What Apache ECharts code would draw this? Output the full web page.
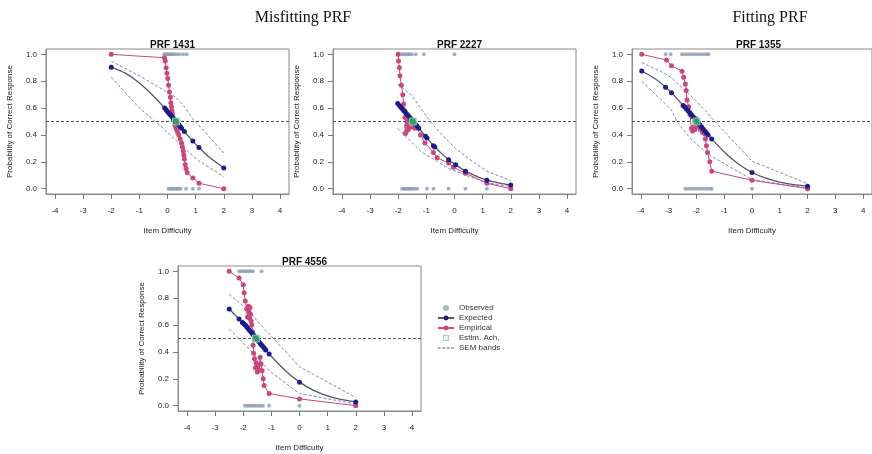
<!DOCTYPE html>
<html>
<head>
<meta charset="utf-8">
<script src="https://cdn.jsdelivr.net/npm/echarts@6/dist/echarts.min.js"></script>
<style>html,body{margin:0;padding:0;background:#fff}#c{width:872px;height:454px}</style>
</head>
<body>
<div id="c"></div>
<script>
// ---- tick labels ----
const xTicks = [-4, -3, -2, -1, 0, 1, 2, 3, 4];
const yTicks = [0, 0.2, 0.4, 0.6, 0.8, 1.0];
const panelTitles = ['PRF 1431', 'PRF 2227', 'PRF 1355', 'PRF 4556'];

// ---- PRF 1431 ----
const obsTop1 = [-0.12, -0.06, 0, 0.06, 0.12, 0.18, 0.24, 0.32, 0.42, 0.55, 0.68];
const obsBot1 = [0.04, 0.1, 0.16, 0.22, 0.28, 0.34, 0.4, 0.46, 0.66, 0.9, 1.12];
const expected1 = [[-2,0.905],[-0.1,0.6],[-0.05,0.587],[0,0.575],[0.05,0.562],[0.1,0.55],[0.15,0.537],[0.2,0.525],[0.25,0.512],[0.3,0.5],[0.35,0.488],[0.4,0.475],[0.45,0.463],[0.5,0.45],[0.6,0.425],[0.9,0.354],[1.12,0.306],[2,0.154]];
const curve1 = [[-1.5,0.86],[-1,0.787],[-0.5,0.69],[1.5,0.231]];
const empirical1 = [[-2,1.0],[-0.11,0.975],[-0.08,0.95],[-0.05,0.9],[-0.02,0.86],[0.01,0.82],[0.04,0.77],[0.07,0.72],[0.1,0.68],[0.12,0.64],[0.14,0.61],[0.16,0.58],[0.18,0.555],[0.2,0.53],[0.22,0.51],[0.25,0.48],[0.28,0.46],[0.32,0.44],[0.36,0.42],[0.4,0.4],[0.45,0.37],[0.5,0.34],[0.53,0.31],[0.56,0.28],[0.58,0.25],[0.6,0.22],[0.63,0.18],[0.66,0.15],[0.7,0.12],[0.9,0.08],[1.12,0.04],[2,0.0]];
const semUp1 = [[-2,0.95],[-1,0.84],[-0.1,0.73],[0.3,0.68],[0.6,0.61],[0.9,0.52],[1.12,0.47],[2,0.265]];
const semLo1 = [[-2,0.83],[-1,0.6],[-0.1,0.44],[0.3,0.36],[0.6,0.3],[0.9,0.245],[1.12,0.205],[2,0.09]];
const est1 = [0.3, 0.5];

// ---- PRF 2227 ----
const obsTop2 = [-2.02, -1.86, -1.8, -1.74, -1.66, -1.6, -1.52, -1.38, -1.09, 0.0];
const obsBot2 = [-1.86, -1.8, -1.74, -1.68, -1.62, -1.56, -1.5, -1.42, -1.33, -0.98, -0.75, -0.21, 0.39, 1.15];
const expected2 = [[-2.02,0.634],[-1.95,0.617],[-1.9,0.605],[-1.85,0.593],[-1.8,0.58],[-1.75,0.568],[-1.7,0.556],[-1.65,0.544],[-1.6,0.532],[-1.55,0.52],[-1.5,0.508],[-1.45,0.495],[-1.4,0.483],[-1.33,0.466],[-1.27,0.45],[-1.03,0.39],[-0.98,0.378],[-0.75,0.32],[-0.7,0.31],[-0.21,0.215],[0.04,0.178],[0.39,0.13],[1.15,0.063],[2.0,0.027]];
const curve2 = [[-0.5,0.27],[0.75,0.095],[1.6,0.041]];
const empirical2 = [[-2.0,1.0],[-1.99,0.95],[-1.96,0.9],[-1.94,0.84],[-1.89,0.77],[-1.84,0.7],[-1.81,0.63],[-1.78,0.58],[-1.76,0.53],[-1.75,0.41],[-1.72,0.42],[-1.7,0.47],[-1.67,0.5],[-1.64,0.44],[-1.6,0.47],[-1.56,0.5],[-1.52,0.46],[-1.48,0.48],[-1.45,0.455],[-1.4,0.45],[-1.35,0.46],[-1.21,0.4],[-1.05,0.34],[-0.75,0.27],[-0.62,0.23],[-0.21,0.19],[-0.04,0.16],[0.39,0.115],[1.15,0.04],[2.0,0.0]];
const semUp2 = [[-2.02,0.78],[-1.5,0.69],[-1.21,0.6],[-1.03,0.55],[-0.75,0.47],[-0.21,0.35],[0.04,0.3],[0.39,0.24],[1.15,0.13],[2,0.06]];
const semLo2 = [[-2.02,0.45],[-1.5,0.34],[-1.21,0.28],[-1.03,0.255],[-0.75,0.22],[-0.21,0.15],[0.04,0.13],[0.39,0.1],[1.15,0.045],[2,0.015]];
const est2 = [-1.48, 0.5];

// ---- PRF 1355 ----
const obsTop3 = [-3.11, -2.93, -2.52, -2.42, -2.32, -2.22, -2.12, -2.02, -1.92, -1.82, -1.72, -1.62, -1.57];
const obsBot3 = [-2.4, -2.3, -2.2, -2.1, -2.0, -1.9, -1.8, -1.7, -1.6, -1.5, -1.45, 0];
const expected3 = [[-3.97,0.876],[-3.11,0.756],[-2.9,0.715],[-2.48,0.62],[-2.42,0.608],[-2.36,0.594],[-2.3,0.58],[-2.24,0.565],[-2.18,0.55],[-2.12,0.535],[-2.06,0.52],[-2.0,0.505],[-1.94,0.49],[-1.88,0.475],[-1.82,0.46],[-1.76,0.445],[-1.7,0.43],[-1.64,0.415],[-1.58,0.4],[-1.45,0.37],[0,0.12],[2,0.018]];
const curve3 = [[-3.5,0.82],[-1,0.273],[-0.5,0.185],[0.5,0.078],[1,0.049],[1.5,0.03]];
const empirical3 = [[-3.97,1.0],[-3.08,0.958],[-2.9,0.915],[-2.52,0.875],[-2.46,0.83],[-2.4,0.78],[-2.37,0.73],[-2.34,0.66],[-2.28,0.61],[-2.23,0.55],[-2.18,0.45],[-2.14,0.43],[-2.1,0.46],[-2.06,0.44],[-2.02,0.52],[-1.98,0.49],[-1.94,0.46],[-1.9,0.48],[-1.86,0.44],[-1.82,0.45],[-1.78,0.42],[-1.74,0.43],[-1.71,0.41],[-1.68,0.37],[-1.64,0.32],[-1.6,0.27],[-1.52,0.2],[-1.45,0.13],[0,0.062],[2,0.0]];
const semUp3 = [[-3.97,0.94],[-3.11,0.855],[-2.9,0.825],[-2.48,0.745],[-2.2,0.69],[-1.82,0.61],[-1.58,0.56],[-1.45,0.525],[0,0.205],[2,0.037]];
const semLo3 = [[-3.97,0.8],[-3.11,0.63],[-2.9,0.585],[-2.7,0.5],[-2.48,0.44],[-2.2,0.37],[-1.82,0.3],[-1.58,0.26],[-1.45,0.24],[0,0.067],[2,0.005]];
const est3 = [-2.0, 0.5];

// ---- PRF 4556 ----
const obsTop4 = [-2.15, -2.06, -1.98, -1.9, -1.82, -1.74, -1.66, -1.35];
const obsBot4 = [-1.94, -1.86, -1.78, -1.7, -1.62, -1.54, -1.46, -1.38, -1.3, -1.08, 0];
const expected4 = [[-2.5,0.72],[-2.15,0.645],[-2.03,0.62],[-1.98,0.61],[-1.93,0.6],[-1.88,0.587],[-1.83,0.575],[-1.78,0.562],[-1.73,0.55],[-1.68,0.537],[-1.63,0.525],[-1.58,0.512],[-1.55,0.505],[-1.5,0.49],[-1.45,0.478],[-1.4,0.465],[-1.35,0.452],[-1.3,0.44],[-1.25,0.428],[-1.2,0.415],[-1.08,0.385],[0,0.175],[2,0.027]];
const curve4 = [[-0.5,0.26],[0.5,0.114],[1,0.072],[1.5,0.044]];
const empirical4 = [[-2.5,1.0],[-2.15,0.95],[-2.0,0.9],[-1.97,0.84],[-1.93,0.78],[-1.88,0.72],[-1.85,0.66],[-1.82,0.74],[-1.8,0.7],[-1.78,0.65],[-1.76,0.73],[-1.74,0.68],[-1.72,0.63],[-1.7,0.6],[-1.67,0.55],[-1.65,0.45],[-1.63,0.39],[-1.6,0.35],[-1.57,0.28],[-1.54,0.32],[-1.5,0.25],[-1.47,0.3],[-1.44,0.27],[-1.4,0.36],[-1.37,0.31],[-1.33,0.26],[-1.29,0.2],[-1.26,0.15],[-1.08,0.09],[0,0.05],[2,0.0]];
const semUp4 = [[-2.5,0.83],[-2.15,0.77],[-1.77,0.7],[-1.5,0.63],[-1.2,0.56],[-1.08,0.535],[0,0.29],[2,0.06]];
const semLo4 = [[-2.5,0.57],[-2.15,0.5],[-1.88,0.44],[-1.55,0.37],[-1.2,0.29],[-1.08,0.26],[0,0.09],[2,0.012]];
const est4 = [-1.55, 0.5];

const panels = [
  {obsTop: obsTop1, obsBot: obsBot1, expected: expected1, curve: curve1, emp: empirical1, up: semUp1, lo: semLo1, est: est1},
  {obsTop: obsTop2, obsBot: obsBot2, expected: expected2, curve: curve2, emp: empirical2, up: semUp2, lo: semLo2, est: est2},
  {obsTop: obsTop3, obsBot: obsBot3, expected: expected3, curve: curve3, emp: empirical3, up: semUp3, lo: semLo3, est: est3},
  {obsTop: obsTop4, obsBot: obsBot4, expected: expected4, curve: curve4, emp: empirical4, up: semUp4, lo: semLo4, est: est4}
];

// layout (pixels)
const boxes = [
  {left: 46, top: 49},
  {left: 333, top: 49},
  {left: 632, top: 49},
  {left: 178, top: 266}
];
const BW = 243, BH = 145;

const C = {
  obs: '#8d9db3', exp: '#1c1c8a', curve: '#55556e', emp: '#c9487c',
  sem: '#8484bc', est: '#3db56c', box: '#8a8a8a', text: '#222'
};
const FONT = 'Liberation Sans, Arial, sans-serif';

const grids = [], xAxes = [], yAxes = [], series = [], titles = [];

titles.push({text: 'Misfitting PRF', left: 298, top: 5, textAlign: 'center',
  textStyle: {fontFamily: 'Liberation Serif, Times New Roman, serif', fontSize: 16, fontWeight: 'normal', color: '#111'}});
titles.push({text: 'Fitting PRF', left: 765, top: 5, textAlign: 'center',
  textStyle: {fontFamily: 'Liberation Serif, Times New Roman, serif', fontSize: 16, fontWeight: 'normal', color: '#111'}});

panels.forEach((p, i) => {
  const b = boxes[i];
  grids.push({left: b.left, top: b.top, width: BW, height: BH, show: true,
    borderColor: C.box, borderWidth: 1, backgroundColor: 'transparent', containLabel: false});
  titles.push({text: panelTitles[i], left: b.left + BW / 2, top: b.top - 14, textAlign: 'center',
    textStyle: {fontFamily: FONT, fontSize: 10, fontWeight: 'bold', color: '#111'}});
  xAxes.push({gridIndex: i, type: 'value', min: -4.32, max: 4.32,
    axisLine: {show: true, onZero: false, lineStyle: {color: C.box}},
    axisTick: {show: true, length: 5, customValues: xTicks, lineStyle: {color: '#777'}},
    axisLabel: {customValues: xTicks, fontSize: 8, color: C.text, margin: 13, fontFamily: FONT},
    splitLine: {show: false},
    name: 'Item Difficulty', nameLocation: 'middle', nameGap: 33,
    nameTextStyle: {fontSize: 8, color: C.text, fontFamily: FONT}});
  yAxes.push({gridIndex: i, type: 'value', min: -0.04, max: 1.04,
    axisLine: {show: true, onZero: false, lineStyle: {color: C.box}},
    axisTick: {show: true, length: 5, customValues: yTicks, lineStyle: {color: '#777'}},
    axisLabel: {customValues: yTicks, fontSize: 8, color: C.text, margin: 9, fontFamily: FONT,
      formatter: v => v.toFixed(1)},
    splitLine: {show: false},
    name: 'Probability of Correct Response', nameLocation: 'middle', nameGap: 32, nameRotate: 90,
    nameTextStyle: {fontSize: 8, color: C.text, fontFamily: FONT}});

  // observed points at 1 and 0
  const obsData = p.obsTop.map(x => [x, 1]).concat(p.obsBot.map(x => [x, 0]));
  series.push({name: 'Observed', type: 'scatter', xAxisIndex: i, yAxisIndex: i, data: obsData,
    symbol: 'circle', symbolSize: 4, itemStyle: {color: C.obs}, z: 2,
    markLine: {silent: true, symbol: 'none', label: {show: false},
      lineStyle: {type: [3, 2], color: '#555', width: 1}, data: [{yAxis: 0.5}]}});

  // SEM bands
  [p.up, p.lo].forEach(band => {
    series.push({name: 'SEM bands', type: 'line', xAxisIndex: i, yAxisIndex: i, data: band,
      symbol: 'none', lineStyle: {type: [3, 2], color: C.sem, width: 1}, itemStyle: {color: '#555577'}, z: 3});
  });

  // empirical
  series.push({name: 'Empirical', type: 'line', xAxisIndex: i, yAxisIndex: i, data: p.emp,
    symbol: 'circle', symbolSize: 5, showAllSymbol: true,
    lineStyle: {color: C.emp, width: 1}, itemStyle: {color: C.emp}, z: 4});

  // expected: model curve through expected points, markers only on expected points
  const merged = p.expected.map(d => ({value: d}))
    .concat(p.curve.map(d => ({value: d, symbol: 'none'})))
    .sort((a, b) => a.value[0] - b.value[0]);
  series.push({name: 'Expected', type: 'line', xAxisIndex: i, yAxisIndex: i, data: merged,
    symbol: 'circle', symbolSize: 5, showAllSymbol: true, smooth: 0.2,
    lineStyle: {color: C.curve, width: 1.3}, itemStyle: {color: C.exp}, z: 5});

  // estimated achievement
  series.push({name: 'Estim. Ach.', type: 'scatter', xAxisIndex: i, yAxisIndex: i, data: [p.est],
    symbol: 'rect', symbolSize: 7, itemStyle: {color: C.est, borderColor: '#9be0b6', borderWidth: 1}, z: 6});
});

const chart = echarts.init(document.getElementById('c'), null, {renderer: 'canvas'});
chart.setOption({
  animation: false,
  backgroundColor: '#fff',
  title: titles,
  grid: grids,
  xAxis: xAxes,
  yAxis: yAxes,
  legend: {
    orient: 'vertical', left: 437, top: 303, itemWidth: 16, itemHeight: 6, itemGap: 0, padding: 0,
    symbolKeepAspect: true,
    textStyle: {fontSize: 8, lineHeight: 10, color: '#333', fontFamily: FONT},
    data: [
      {name: 'Observed', icon: 'circle', itemStyle: {color: '#9aa6b8'}},
      {name: 'Expected'},
      {name: 'Empirical'},
      {name: 'Estim. Ach.', icon: 'path://M0,0 H5 V5 H0 Z M1,1 V4 H4 V1 Z',
        itemStyle: {color: '#7fcfa3', borderWidth: 0}},
      {name: 'SEM bands', icon: 'path://M0,0 H3 V1 H0 Z M5,0 H8 V1 H5 Z M10,0 H13 V1 H10 Z M15,0 H18 V1 H15 Z',
        itemStyle: {color: '#555577', borderWidth: 0}}
    ]
  },
  series: series
});
</script>
</body>
</html>
